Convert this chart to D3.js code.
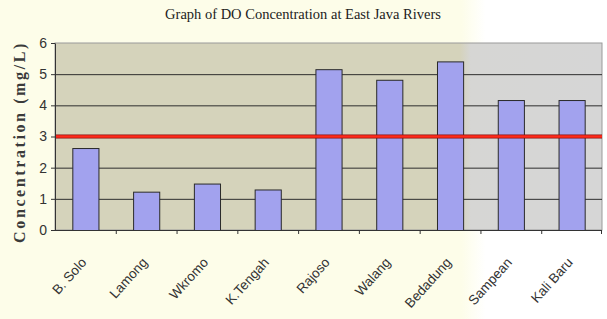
<!DOCTYPE html>
<html>
<head>
<meta charset="utf-8">
<script src="https://cdn.jsdelivr.net/npm/d3@7"></script>
<style>
  body { margin: 0; background: #fff; }
  svg { display: block; }
</style>
</head>
<body>
<div id="chart"></div>
<script>
// data
var rivers = ["B. Solo", "Lamong", "Wkromo", "K.Tengah", "Rajoso", "Walang", "Bedadung", "Sampean", "Kali Baru"];
var doValues = [2.63, 1.23, 1.49, 1.30, 5.16, 4.82, 5.41, 4.17, 4.17];
var yTicks = [0, 1, 2, 3, 4, 5, 6];
var standardDO = 3;

var W = 607, H = 319;
var margin = { top: 43, right: 5, bottom: 89, left: 55 },
    width = W - margin.left - margin.right,
    height = H - margin.top - margin.bottom;

var svg = d3.select("#chart").append("svg").attr("width", W).attr("height", H);

// background tints (page is cream on the left, white on the right)
var defs = svg.append("defs");
var bgGrad = defs.append("linearGradient").attr("id", "bgGrad").attr("x1", "0").attr("x2", "1").attr("y1", "0").attr("y2", "0");
bgGrad.append("stop").attr("offset", "0.76").attr("stop-color", "#fdfde9");
bgGrad.append("stop").attr("offset", "0.80").attr("stop-color", "#ffffff");
var plotGrad = defs.append("linearGradient").attr("id", "plotGrad").attr("x1", "0").attr("x2", "1").attr("y1", "0").attr("y2", "0");
plotGrad.append("stop").attr("offset", "0.74").attr("stop-color", "#d5d3bb");
plotGrad.append("stop").attr("offset", "0.76").attr("stop-color", "#d6d6d4");
plotGrad.append("stop").attr("offset", "1").attr("stop-color", "#d6d6d6");

svg.append("rect").attr("width", W).attr("height", H).attr("fill", "url(#bgGrad)");

var x = d3.scaleBand().domain(rivers).range([0, width]).paddingInner(0.57).paddingOuter(0.285);
var xb = d3.scaleBand().domain(rivers).range([0, width]);
var y = d3.scaleLinear().domain([0, 6]).range([height, 0]);

var g = svg.append("g").attr("transform", "translate(" + margin.left + "," + margin.top + ")");

g.append("rect")
    .attr("width", width)
    .attr("height", height)
    .attr("fill", "url(#plotGrad)")
    .attr("stroke", "#9a9a9a")
    .attr("stroke-width", 1);

// gridlines
g.selectAll(".grid")
    .data(yTicks.filter(function(d) { return d > 0 && d < 6; }))
    .enter().append("line")
    .attr("class", "grid")
    .attr("x1", 0).attr("x2", width)
    .attr("y1", function(d) { return y(d) + 0.5; })
    .attr("y2", function(d) { return y(d) + 0.5; })
    .attr("stroke", "#2e2e2e")
    .attr("stroke-width", 1);

// bars
g.selectAll(".bar")
    .data(doValues)
    .enter().append("rect")
    .attr("class", "bar")
    .attr("x", function(d, i) { return x(rivers[i]) + 0.5; })
    .attr("y", function(d) { return y(d) + 0.5; })
    .attr("width", x.bandwidth())
    .attr("height", function(d) { return height - y(d); })
    .attr("fill", "#a2a2ee")
    .attr("stroke", "#2a2a2a")
    .attr("stroke-width", 1);

// standard line
g.append("line")
    .attr("x1", 0).attr("x2", width)
    .attr("y1", y(standardDO)).attr("y2", y(standardDO))
    .attr("stroke", "#8a1010").attr("stroke-width", 4);
g.append("line")
    .attr("x1", 0).attr("x2", width)
    .attr("y1", y(standardDO)).attr("y2", y(standardDO))
    .attr("stroke", "#ff2a1a").attr("stroke-width", 2.5);

// y axis
var yAxis = g.append("g")
    .call(d3.axisLeft(y).tickValues(yTicks).tickFormat(d3.format("d")).tickSize(4).tickSizeOuter(0));
yAxis.select(".domain").attr("stroke", "#333");
yAxis.selectAll(".tick line").attr("stroke", "#333");
yAxis.selectAll("text")
    .attr("font-family", "Liberation Sans Narrow, Arial Narrow, Liberation Sans, sans-serif")
    .attr("font-size", "14px")
    .attr("fill", "#333")
    .attr("x", -8);

// x axis (ticks at band boundaries)
var xAxisG = g.append("g").attr("transform", "translate(0," + height + ")");
xAxisG.append("line").attr("x1", 0).attr("x2", width).attr("y1", 0.5).attr("y2", 0.5).attr("stroke", "#333");
xAxisG.selectAll(".xtick")
    .data(rivers.slice(1))
    .enter().append("line")
    .attr("class", "xtick")
    .attr("x1", function(d) { return xb(d) + 0.5; })
    .attr("x2", function(d) { return xb(d) + 0.5; })
    .attr("y1", 0).attr("y2", 4)
    .attr("stroke", "#333");
xAxisG.append("line").attr("x1", width - 0.5).attr("x2", width - 0.5).attr("y1", 0).attr("y2", 4).attr("stroke", "#333");

xAxisG.selectAll(".xlabel")
    .data(rivers)
    .enter().append("text")
    .attr("class", "xlabel")
    .attr("transform", function(d) {
        return "translate(" + (xb(d) + xb.bandwidth() / 2 + 2) + ",33) rotate(-48)";
    })
    .attr("text-anchor", "end")
    .attr("font-family", "Liberation Sans, Arial, sans-serif")
    .attr("font-size", "13.5px")
    .attr("fill", "#333")
    .text(function(d) { return d; });

// title
svg.append("text")
    .attr("x", 303)
    .attr("y", 19)
    .attr("text-anchor", "middle")
    .attr("font-family", "Liberation Serif, Times New Roman, serif")
    .attr("font-size", "14.5px")
    .attr("fill", "#222")
    .text("Graph of DO Concentration at East Java Rivers");

// y axis label
svg.append("text")
    .attr("transform", "translate(25,142) rotate(-90)")
    .attr("text-anchor", "middle")
    .attr("font-family", "Liberation Serif, Times New Roman, serif")
    .attr("font-size", "16px")
    .attr("font-weight", "bold")
    .attr("letter-spacing", "2.6px")
    .attr("fill", "#3a3a3a")
    .text("Concentration (mg/L)");
</script>
</body>
</html>
